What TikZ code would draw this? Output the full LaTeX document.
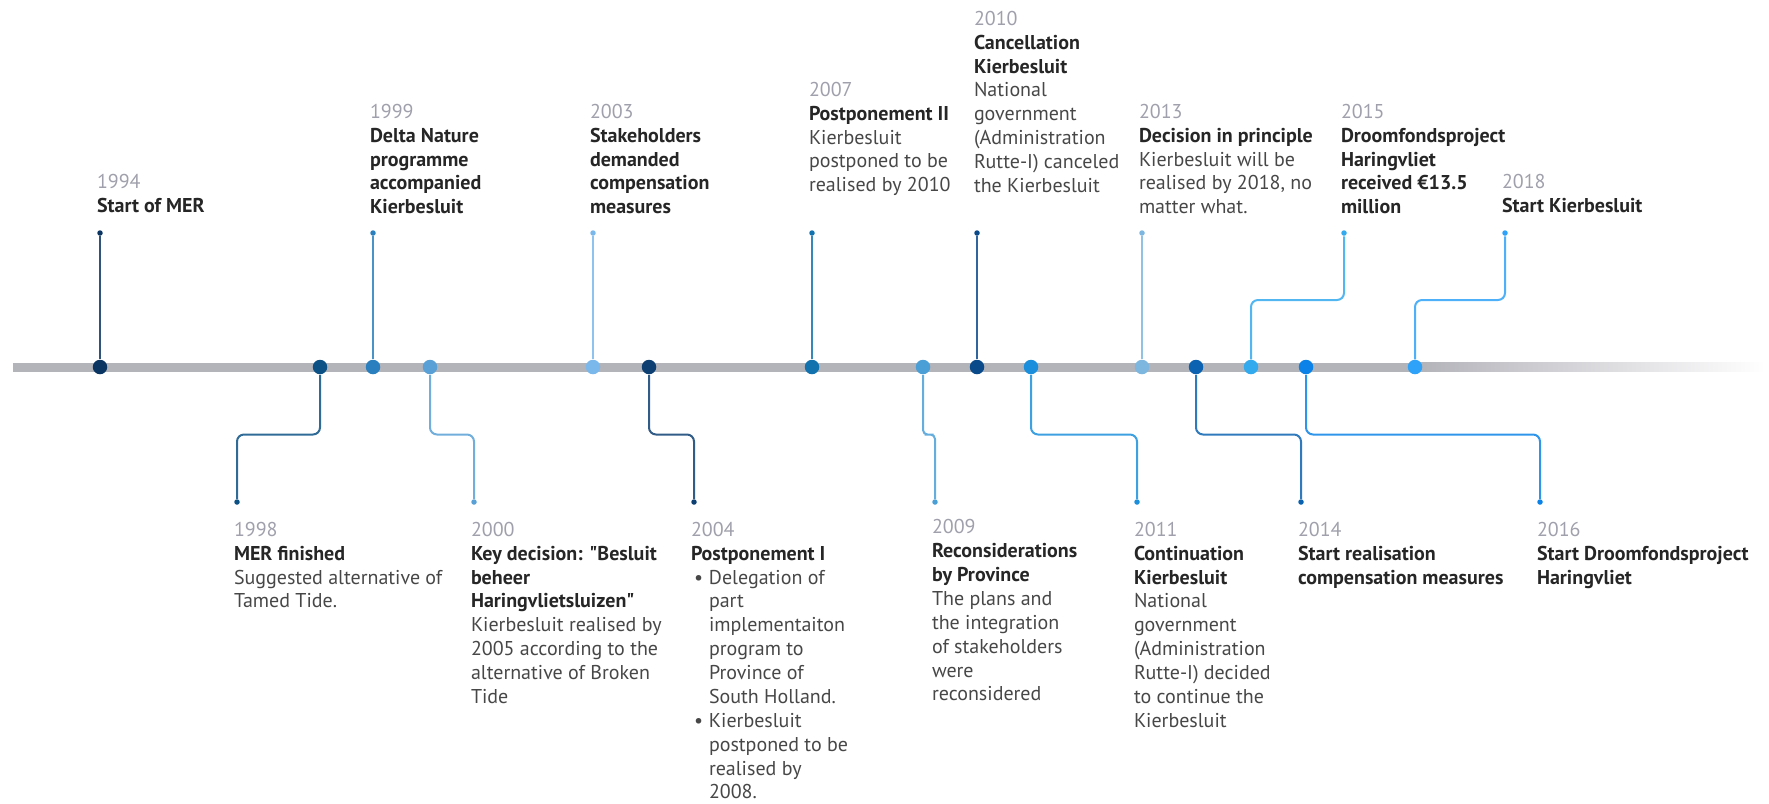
\documentclass[tikz,border=0pt]{standalone}
\usepackage{fontspec}
\setmainfont{PT Sans}[Ligatures=TeXOff]
\usetikzlibrary{calc}
\definecolor{Axis}{HTML}{B3B3BA}
\definecolor{YearGray}{HTML}{A0A0AC}
\definecolor{Title}{HTML}{262626}
\definecolor{Body}{HTML}{474747}
\definecolor{C94}{HTML}{0A3563}
\definecolor{C98}{HTML}{0B5185}
\definecolor{C99}{HTML}{2A80BE}
\definecolor{C00}{HTML}{58A0D6}
\definecolor{C03}{HTML}{7AB8EC}
\definecolor{C04}{HTML}{0D3F72}
\definecolor{C07}{HTML}{1272AE}
\definecolor{C09}{HTML}{4A9FD6}
\definecolor{C10}{HTML}{0A4A8A}
\definecolor{C11}{HTML}{1B8FDB}
\definecolor{C13}{HTML}{7DB6DE}
\definecolor{C14}{HTML}{0A62B0}
\definecolor{C15}{HTML}{33A9EE}
\definecolor{C16}{HTML}{0A82E8}
\definecolor{C18}{HTML}{2EA2F8}
\newcommand{\Yr}[1]{\textcolor{YearGray}{#1}}
\newcommand{\Hd}[1]{\textcolor{Title}{\bfseries #1}}
\newcommand{\Bul}{\makebox[7.2pt][l]{\hspace{1.2pt}\textbullet}}
\newcommand{\Ind}{\hspace*{7.2pt}}

\begin{document}
\begin{tikzpicture}[x=0.4pt,y=0.4pt,
  axisdot/.style={circle,inner sep=0pt,minimum size=5.8pt},
  enddot/.style={circle,inner sep=0pt,minimum size=2.2pt},
  stem/.style={line width=0.8pt,rounded corners=2.8pt},
  evtext/.style={anchor=north west,inner sep=0pt,align=left,text=Body,
    font=\fontsize{8}{9.55}\selectfont}]
\useasboundingbox (0,0) rectangle (1769,-803);
% axis
\fill[Axis] (13,-362.5) rectangle (1420,-371.5);
\shade[left color=Axis,right color=white] (1420,-362.5) rectangle (1765,-371.5);
\foreach \n/\x in {94/100,98/320,99/373,00/430,03/593,04/649,07/812,09/923,
    10/977,11/1031,13/1142,14/1196,15/1251,16/1306,18/1415} {
  \node[axisdot,fill=C\n] (d\n) at (\x,-367) {};
}
% end points
\foreach \n/\x in {94/100,99/373,03/593,07/812,10/977,13/1142,15/1344,18/1505} {
  \node[enddot,fill=C\n] (e\n) at (\x,-233) {};
}
\foreach \n/\x in {98/237,00/474,04/694,09/935,11/1137,14/1301,16/1540} {
  \node[enddot,fill=C\n] (e\n) at (\x,-502) {};
}
% stems
\foreach \n in {94,99,03,07,10,13} {
  \draw[stem,C\n!85] (d\n) -- (e\n);
}
\foreach \n in {15,18,98,00,04,11,14,16} {
  \draw[stem,C\n!85] (d\n) |- ($(d\n)!.5!(e\n)$) -| (e\n);
}
\draw[stem,C09!85,rounded corners=1.8pt] (d09) |- ($(d09)!.5!(e09)$) -| (e09);
% events above
\node[evtext] (t94) at (96.5,-173.5) {\Yr{1994}\\\Hd{Start of MER}};
\node[evtext] (t99) at (369.5,-103.5) {\Yr{1999}\\\Hd{Delta Nature}\\\Hd{programme}\\\Hd{accompanied}\\\Hd{Kierbesluit}};
\node[evtext] (t03) at (589.5,-103.5) {\Yr{2003}\\\Hd{Stakeholders}\\\Hd{demanded}\\\Hd{compensation}\\\Hd{measures}};
\node[evtext] (t07) at (808.5,-81.5) {\Yr{2007}\\\Hd{Postponement II}\\Kierbesluit\\postponed to be\\realised by 2010};
\node[evtext] (t10) at (973.5,-10.5) {\Yr{2010}\\\Hd{Cancellation}\\\Hd{Kierbesluit}\\National\\government\\(Administration\\Rutte-I) canceled\\the Kierbesluit};
\node[evtext] (t13) at (1138.5,-103.5) {\Yr{2013}\\\Hd{Decision in principle}\\Kierbesluit will be\\realised by 2018, no\\matter what.};
\node[evtext] (t15) at (1340.5,-103.5) {\Yr{2015}\\\Hd{Droomfondsproject}\\\Hd{Haringvliet}\\\Hd{received €13.5}\\\Hd{million}};
\node[evtext] (t18) at (1501.5,-173.5) {\Yr{2018}\\\Hd{Start Kierbesluit}};
% events below
\node[evtext] (t98) at (233.5,-521.5) {\Yr{1998}\\\Hd{MER finished}\\Suggested alternative of\\Tamed Tide.};
\node[evtext] (t00) at (470.5,-521.5) {\Yr{2000}\\\Hd{Key decision: "Besluit}\\\Hd{beheer}\\\Hd{Haringvlietsluizen"}\\Kierbesluit realised by\\2005 according to the\\alternative of Broken\\Tide};
\node[evtext] (t04) at (690.5,-521.5) {\Yr{2004}\\\Hd{Postponement I}\\\Bul Delegation of\\\Ind part\\\Ind implementaiton\\\Ind program to\\\Ind Province of\\\Ind South Holland.\\\Bul Kierbesluit\\\Ind postponed to be\\\Ind realised by\\\Ind 2008.};
\node[evtext] (t09) at (931.5,-519) {\Yr{2009}\\\Hd{Reconsiderations}\\\Hd{by Province}\\The plans and\\the integration\\of stakeholders\\were\\reconsidered};
\node[evtext] (t11) at (1133.5,-521.5) {\Yr{2011}\\\Hd{Continuation}\\\Hd{Kierbesluit}\\National\\government\\(Administration\\Rutte-I) decided\\to continue the\\Kierbesluit};
\node[evtext] (t14) at (1297.5,-521.5) {\Yr{2014}\\\Hd{Start realisation}\\\Hd{compensation measures}};
\node[evtext] (t16) at (1536.5,-521.5) {\Yr{2016}\\\Hd{Start Droomfondsproject}\\\Hd{Haringvliet}};
\end{tikzpicture}
\end{document}
